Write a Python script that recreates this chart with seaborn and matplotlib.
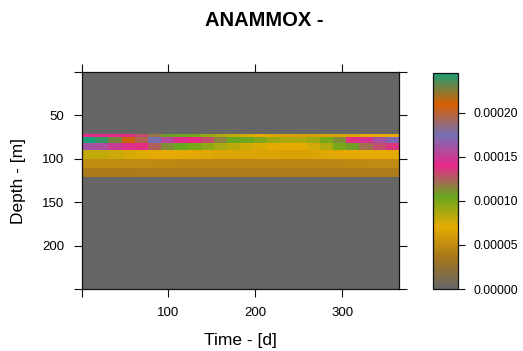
import numpy as np
import pandas as pd
import matplotlib
matplotlib.use("Agg")
import matplotlib.pyplot as plt
from matplotlib.colors import LinearSegmentedColormap
import seaborn as sns

# ---- data ----
title = "ANAMMOX -"
x_label = "Time - [d]"
y_label = "Depth - [m]"

# time columns (day centres of ~15-day blocks, days 1..365)
time_days = [7.6, 22.8, 38.0, 53.2, 68.4, 83.6, 98.8, 114.0, 129.3, 144.5,
             159.7, 174.9, 190.1, 205.3, 220.5, 235.7, 250.9, 266.1, 281.4,
             296.6, 311.8, 327.0, 342.2, 357.4]

# depth band limits [m]
band_top = [71, 75, 82, 90, 100, 111]
band_bottom = [75, 82, 90, 100, 111, 121]
max_depth = 250

band_A = [1.40e-4, 1.40e-4, 1.40e-4, 1.38e-4, 1.30e-4, 1.18e-4, 1.08e-4, 1.04e-4,
          1.00e-4, 0.92e-4, 0.86e-4, 0.80e-4, 0.75e-4, 0.70e-4, 0.66e-4, 0.64e-4,
          0.63e-4, 0.63e-4, 0.64e-4, 0.65e-4, 0.66e-4, 0.68e-4, 0.70e-4, 0.70e-4]
band_B = [2.45e-4, 2.40e-4, 2.28e-4, 2.12e-4, 1.95e-4, 1.76e-4, 1.55e-4, 1.42e-4,
          1.40e-4, 1.30e-4, 1.15e-4, 1.05e-4, 1.03e-4, 0.97e-4, 0.90e-4, 0.87e-4,
          0.86e-4, 0.90e-4, 1.00e-4, 1.12e-4, 1.38e-4, 1.45e-4, 1.60e-4, 1.72e-4]
band_C = [1.60e-4, 1.58e-4, 1.50e-4, 1.43e-4, 1.38e-4, 1.25e-4, 1.12e-4, 1.05e-4,
          1.00e-4, 0.93e-4, 0.88e-4, 0.82e-4, 0.77e-4, 0.73e-4, 0.70e-4, 0.70e-4,
          0.70e-4, 0.75e-4, 0.85e-4, 1.00e-4, 1.08e-4, 1.20e-4, 1.30e-4, 1.36e-4]
band_D = [0.80e-4, 0.80e-4, 0.78e-4, 0.75e-4, 0.72e-4, 0.70e-4, 0.70e-4, 0.69e-4,
          0.68e-4, 0.67e-4, 0.66e-4, 0.66e-4, 0.66e-4, 0.65e-4, 0.65e-4, 0.64e-4,
          0.64e-4, 0.65e-4, 0.67e-4, 0.68e-4, 0.69e-4, 0.70e-4, 0.70e-4, 0.70e-4]
band_E = [0.50e-4, 0.50e-4, 0.50e-4, 0.49e-4, 0.49e-4, 0.48e-4, 0.48e-4, 0.47e-4,
          0.47e-4, 0.46e-4, 0.46e-4, 0.46e-4, 0.46e-4, 0.46e-4, 0.46e-4, 0.46e-4,
          0.46e-4, 0.46e-4, 0.47e-4, 0.47e-4, 0.48e-4, 0.48e-4, 0.49e-4, 0.49e-4]
band_F = [0.38e-4, 0.38e-4, 0.38e-4, 0.38e-4, 0.39e-4, 0.39e-4, 0.39e-4, 0.39e-4,
          0.39e-4, 0.39e-4, 0.39e-4, 0.39e-4, 0.39e-4, 0.39e-4, 0.39e-4, 0.39e-4,
          0.39e-4, 0.39e-4, 0.39e-4, 0.39e-4, 0.39e-4, 0.39e-4, 0.39e-4, 0.39e-4]

x_ticks = [0.5, 100, 200, 300]
x_tick_labels = ["", "100", "200", "300"]
y_ticks = [0, 50, 100, 150, 200, 250]
y_tick_labels = ["", "50", "100", "150", "200", ""]
cbar_ticks = [0.0, 0.00005, 0.00010, 0.00015, 0.00020]
vmax = 0.000245

palette = ["#666666", "#A6761D", "#E6AB02", "#66A61E",
           "#E7298A", "#7570B3", "#D95F02", "#1B9E77"]

# ---- build the grid table from the arrays ----
bands = [band_A, band_B, band_C, band_D, band_E, band_F]
grid = np.zeros((max_depth, len(time_days)))
for top, bot, vals in zip(band_top, band_bottom, bands):
    grid[top:bot, :] = vals
df = pd.DataFrame(grid, index=np.arange(max_depth), columns=time_days)

# ---- plot ----
sns.set_theme(style="white")
plt.rcParams["font.family"] = ["Liberation Sans", "DejaVu Sans"]
plt.rcParams["text.color"] = "black"
plt.rcParams["axes.labelcolor"] = "black"
plt.rcParams["xtick.color"] = "black"
plt.rcParams["ytick.color"] = "black"

fig = plt.figure(figsize=(5.23, 3.51), dpi=100)
ax = fig.add_axes([82 / 523, 1 - 289 / 351, 317 / 523, 217 / 351])
cax = fig.add_axes([433 / 523, 1 - 289 / 351, 25 / 523, 216 / 351])

cmap = LinearSegmentedColormap.from_list("dark2r", palette, N=256)
sns.heatmap(df, ax=ax, cbar_ax=cax, cmap=cmap, vmin=0, vmax=vmax,
            xticklabels=False, yticklabels=False, linewidths=0)

ncols = len(time_days)
day0, day1 = 0.5, 365.5
xpos = [(d - day0) / (day1 - day0) * ncols for d in x_ticks]
ax.set_xticks(xpos)
ax.set_xticklabels(x_tick_labels)
ax.set_yticks(y_ticks)
ax.set_yticklabels(y_tick_labels)
ax.set_xlim(0, ncols)
ax.set_ylim(max_depth, 0)
ax.set_xlabel("")
ax.set_ylabel("")
for s in ax.spines.values():
    s.set_visible(True)
    s.set_color("#111111")
    s.set_linewidth(0.9)
ax.tick_params(axis="both", which="both", direction="out", length=6, width=0.8,
               color="#111111", top=True, right=True, bottom=True, left=True,
               labeltop=False, labelright=False, labelsize=9.5, pad=7,
               labelcolor="black")
for lab in ax.get_yticklabels():
    lab.set_rotation(0)
for lab in ax.get_xticklabels():
    lab.set_rotation(0)

cb = ax.collections[0].colorbar
cb.set_ticks(cbar_ticks)
cb.set_ticklabels([f"{t:.5f}" for t in cbar_ticks])
cb.outline.set_visible(True)
cb.outline.set_linewidth(0.9)
cb.outline.set_edgecolor("#111111")
cax.tick_params(direction="out", length=5, width=0.8, color="#111111",
                labelsize=8.8, pad=6, right=True, labelcolor="black")

fig.text(264 / 523, 1 - 21 / 351, title, ha="center", va="center",
         fontsize=14.5, fontweight="bold", color="black")
fig.text(240 / 523, 1 - 341 / 351, x_label, ha="center", va="center",
         fontsize=12.5, color="black")
fig.text(19 / 523, 1 - 181 / 351, y_label, ha="center", va="center",
         fontsize=12.5, rotation=90, color="black")

fig.savefig("out.png", dpi=100)
